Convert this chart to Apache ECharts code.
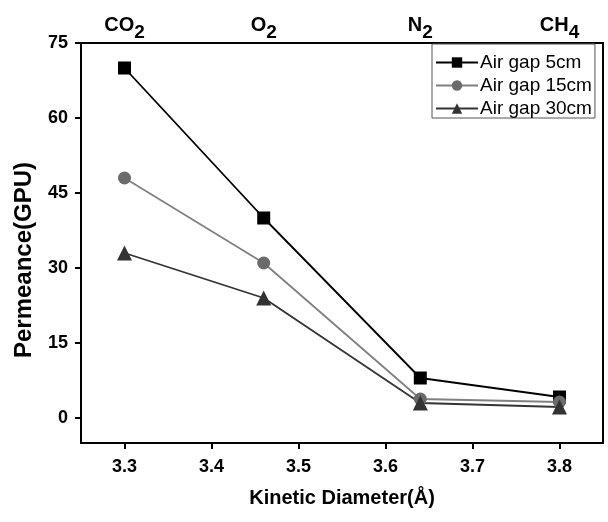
<!DOCTYPE html>
<html><head><meta charset="utf-8">
<script src="https://cdn.jsdelivr.net/npm/echarts@6/dist/echarts.min.js"></script>
<style>html,body{margin:0;padding:0;background:#fff}#c{width:608px;height:522px}</style>
</head><body><div id="c"></div>
<script>
const kineticDiameter = [3.3, 3.46, 3.64, 3.8];
const gasNames = ['CO2', 'O2', 'N2', 'CH4'];
const gap5 = [70, 40, 8, 4.2];
const gap15 = [48, 31, 3.8, 3.2];
const gap30 = [33, 24, 3, 2.2];
const yTicks = [0, 15, 30, 45, 60, 75];
const xTicks = [3.3, 3.4, 3.5, 3.6, 3.7, 3.8];

const font = 'Liberation Sans, Arial, sans-serif';
const chart = echarts.init(document.getElementById('c'));
function pairs(v){ return kineticDiameter.map((x,i)=>[x,v[i]]); }
function gasLabel(val){
  const i = kineticDiameter.findIndex(k=>Math.abs(k-val)<1e-6);
  if(i<0) return '';
  const m = gasNames[i].match(/^([A-Z]+?)(\d+)$/);
  return m ? '{b|'+m[1]+'}{s|'+m[2]+'}' : '{b|'+gasNames[i]+'}';
}
chart.setOption({
  animation:false,
  grid:{left:81,right:5,top:43,bottom:79,show:true,borderColor:'#000',borderWidth:2},
  legend:{
    orient:'vertical', left:432, top:44, itemGap:4, itemWidth:42, itemHeight:13,
    borderColor:'#555', borderWidth:1, padding:[9,3,0,3],
    textStyle:{fontFamily:font,fontSize:19,color:'#000',padding:[0,0,0,-3]},
    data:['Air gap 5cm','Air gap 15cm','Air gap 30cm']
  },
  xAxis:[{
    type:'value', min:3.25, max:3.85, position:'bottom',
    axisLine:{show:true,onZero:false,lineStyle:{color:'#000',width:2}},
    axisTick:{show:true,inside:false,length:6,lineStyle:{color:'#000',width:2},customValues:xTicks},
    axisLabel:{fontFamily:font,fontWeight:'bold',fontSize:18,color:'#000',margin:15,customValues:xTicks,
      formatter:v=>v.toFixed(1)},
    splitLine:{show:false},
    name:'Kinetic Diameter(Å)', nameLocation:'middle', nameGap:45,
    nameTextStyle:{fontFamily:font,fontWeight:'bold',fontSize:20,color:'#000'}
  },{
    type:'value', min:3.25, max:3.85, position:'top',
    axisLine:{show:true,onZero:false,lineStyle:{color:'#000',width:2}},
    axisTick:{show:false},
    axisLabel:{margin:4,customValues:kineticDiameter,formatter:gasLabel,
      rich:{b:{fontFamily:font,fontWeight:'bold',fontSize:20,color:'#000',lineHeight:20,padding:[0,0,8,0]},
            s:{fontFamily:font,fontWeight:'bold',fontSize:19,color:'#000',lineHeight:20,padding:[8,0,0,0]}}},
    splitLine:{show:false}
  }],
  yAxis:{
    type:'value', min:-5, max:75,
    axisLine:{show:true,onZero:false,lineStyle:{color:'#000',width:2}},
    axisTick:{show:true,length:6,lineStyle:{color:'#000',width:2},customValues:yTicks},
    axisLabel:{fontFamily:font,fontWeight:'bold',fontSize:18,color:'#000',margin:13,customValues:yTicks},
    splitLine:{show:false},
    name:'Permeance(GPU)', nameLocation:'middle', nameGap:45,
    nameTextStyle:{fontFamily:font,fontWeight:'bold',fontSize:24,color:'#000',padding:[0,34,0,0]}
  },
  series:[
    {name:'Air gap 5cm',type:'line',data:pairs(gap5),symbol:'rect',symbolSize:13,
     lineStyle:{color:'#000',width:1.8},itemStyle:{color:'#000'}},
    {name:'Air gap 15cm',type:'line',data:pairs(gap15),symbol:'circle',symbolSize:13,
     lineStyle:{color:'#808080',width:1.8},itemStyle:{color:'#6b6b6b'}},
    {name:'Air gap 30cm',type:'line',data:pairs(gap30),symbol:'triangle',symbolSize:15,
     lineStyle:{color:'#333',width:1.8},itemStyle:{color:'#333'}}
  ]
});
</script></body></html>
